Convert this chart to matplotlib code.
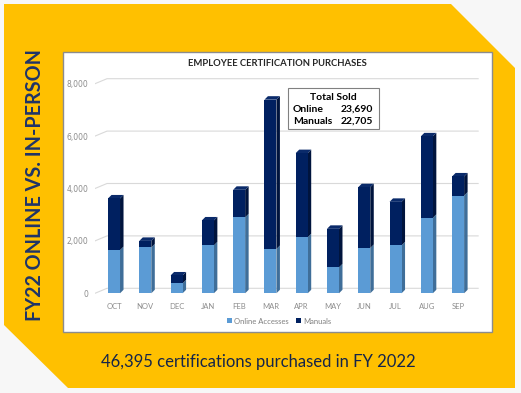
import numpy as np
import matplotlib
matplotlib.use("Agg")
import matplotlib.pyplot as plt
from matplotlib.patches import Polygon, Rectangle

plt.rcParams['font.family'] = ['Lato', 'DejaVu Sans']

# ---- data ----
months = ["OCT", "NOV", "DEC", "JAN", "FEB", "MAR", "APR", "MAY", "JUN", "JUL", "AUG", "SEP"]
online = [1650, 1750, 380, 1830, 2900, 1690, 2140, 990, 1730, 1830, 2880, 3730]
manuals = [1970, 250, 300, 950, 1050, 5700, 3210, 1470, 2320, 1660, 3110, 730]
yticks = [0, 2000, 4000, 6000, 8000]
total_online = "23,690"
total_manuals = "22,705"
headline = "FY22 ONLINE VS. IN-PERSON"
footer = "46,395 certifications purchased in FY 2022"
chart_title = "EMPLOYEE CERTIFICATION PURCHASES"

# colours
YELLOW = "#FFC000"
LIGHT = "#5B9BD5"
LIGHT_SIDE = "#3F6E99"
DARK = "#002060"
DARK_SIDE = "#00143D"
NAVY_TXT = "#1F3468"

W, H = 521, 393
fig = plt.figure(figsize=(W / 100, H / 100), dpi=100, facecolor="#F7F7F7")

# background layer in pixel coordinates
bg = fig.add_axes([0, 0, 1, 1], zorder=0)
bg.set_xlim(0, W)
bg.set_ylim(H, 0)
bg.axis("off")
bg.add_patch(Polygon([(4, 4), (451, 4), (515, 68), (515, 388), (68, 388), (4, 325)],
                     closed=True, fc=YELLOW, ec="none"))
bg.add_patch(Rectangle((63, 52), 429, 280, fc="white", ec="#8C8C8C", lw=1.0))

bg.text(35, 185, headline, rotation=90, ha="center", va="center",
        fontsize=14.2, fontweight="bold", color=NAVY_TXT)
bg.text(258, 362, footer, ha="center", va="center", fontsize=12, color="#15254A")
bg.text(277, 63, chart_title, ha="center", va="center", fontsize=6.8,
        fontweight="bold", color="#262626")

# summary box
bg.add_patch(Rectangle((288, 88), 91, 41, fc="white", ec="#808080", lw=0.8, zorder=5))
bg.text(333, 97, "Total Sold", ha="center", va="center", fontsize=7.5,
        fontweight="bold", color="black", zorder=6)
bg.text(293, 109, "Online", ha="left", va="center", fontsize=7.5,
        fontweight="bold", color="black", zorder=6)
bg.text(373, 109, total_online, ha="right", va="center", fontsize=7.5,
        fontweight="bold", color="black", zorder=6)
bg.text(293, 121, "Manuals", ha="left", va="center", fontsize=7.5,
        fontweight="bold", color="black", zorder=6)
bg.text(373, 121, total_manuals, ha="right", va="center", fontsize=7.5,
        fontweight="bold", color="black", zorder=6)

# ---- chart axes ----
px_x, px_y = 31.27, 26.2 / 1000   # pixels per data unit
ax = fig.add_axes([95 / W, 1 - 300 / H, 385 / W, 230 / H], zorder=1)
ax.patch.set_alpha(0)
x0, x1 = -0.608, 11.70
ax.set_xlim(x0, x1)
ax.set_ylim(-256, 8523)
for s in ax.spines.values():
    s.set_visible(False)

# gridlines on the back wall with the little 3D floor diagonal
dxb, dyb = 12 / px_x, 5 / px_y
for v in yticks:
    ax.plot([x0, x0 + dxb, 11.64], [v, v + dyb, v + dyb], color="#D9D9D9", lw=0.8, zorder=1)

x = np.arange(len(months))
bw = 12 / px_x
b1 = ax.bar(x, online, width=bw, color=LIGHT, zorder=3, label="Online Accesses")
b2 = ax.bar(x, manuals, bottom=online, width=bw, color=DARK, zorder=3, label="Manuals")

# side and top faces to fake the 3D look
dx, dy = 3.5 / px_x, 3.5 / px_y
for xi, on, ma in zip(x, online, manuals):
    r = xi + bw / 2
    l = xi - bw / 2
    top = on + ma
    ax.add_patch(Polygon([(r, 0), (r + dx, dy), (r + dx, on + dy), (r, on)],
                         fc=LIGHT_SIDE, ec="none", zorder=2))
    ax.add_patch(Polygon([(r, on), (r + dx, on + dy), (r + dx, top + dy), (r, top)],
                         fc=DARK_SIDE, ec="none", zorder=2))
    ax.add_patch(Polygon([(l, top), (l + dx, top + dy), (r + dx, top + dy), (r, top)],
                         fc="#0A2A6A", ec="none", zorder=2))

ax.set_xticks(x)
ax.set_xticklabels(months)
ax.set_yticks(yticks)
ax.set_yticklabels([f"{v:,}" for v in yticks], fontfamily=["DejaVu Sans"])
ax.tick_params(axis="both", length=0, labelsize=5.5, labelcolor="#8C8C8C")
ax.tick_params(axis="y", pad=5)
ax.tick_params(axis="x", pad=2)

fig.legend(handles=[b1, b2], labels=["Online Accesses", "Manuals"], loc="center",
           bbox_to_anchor=(279 / W, 1 - 321 / H), ncol=2, frameon=False,
           fontsize=5.5, labelcolor="#7F7F7F", handlelength=0.6, handleheight=0.6,
           handletextpad=0.3, columnspacing=1.0)

fig.savefig("out.png", dpi=100, facecolor=fig.get_facecolor())
